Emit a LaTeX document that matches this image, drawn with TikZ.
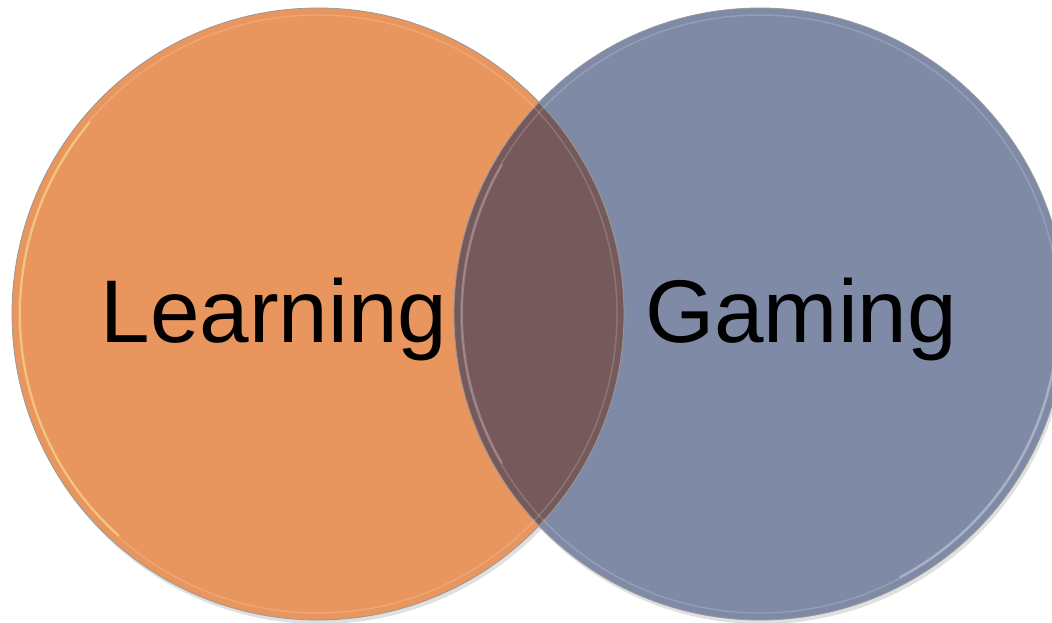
\documentclass[tikz,border=0pt]{standalone}
\usepackage{fontspec}
\setmainfont{Liberation Sans}
\usetikzlibrary{calc}
\definecolor{learnorange}{HTML}{E8955E}
\definecolor{gameblue}{HTML}{7F8BA6}
\definecolor{overlapbrown}{HTML}{765A5B}
\begin{document}
\begin{tikzpicture}
  [x=1pt,y=1pt,
  rim/.style={draw=black!40,line width=0.8pt},
  glow/.style={line width=2pt,opacity=0.45,line cap=round},
  word/.style={font=\fontsize{89}{100}\selectfont,anchor=base,text=black}]
  \useasboundingbox (0,0) rectangle (1052,623);
  \clip (0,0) rectangle (1052,623);
  \coordinate (learn) at (318,309);
  \coordinate (game) at (760,309);
  % drop shadows under the discs
  \fill[black,opacity=0.12] ($(learn)+(2,-4)$) circle (306);
  \fill[black,opacity=0.12] ($(game)+(2,-4)$) circle (306);
  % the two discs and their common lens
  \fill[learnorange] (learn) circle (306);
  \fill[gameblue] (game) circle (306);
  \begin{scope}
    \clip (learn) circle (306);
    \fill[overlapbrown] (game) circle (306);
  \end{scope}
  \draw[rim] (learn) circle (306);
  \draw[rim] (game) circle (306);
  % bevel rings
  \draw[white,opacity=0.16,line width=1.5pt] (learn) circle (299);
  \draw[white,opacity=0.16,line width=1.5pt] (game) circle (299);
  \draw[glow,yellow!40!white] (learn) ++(140:298) arc (140:228:298);
  \draw[glow,white!70!gameblue] (game) ++(-62:298) arc (-62:8:298);
  \draw[glow,white!60!overlapbrown,opacity=0.4] (game) ++(150:298) arc (150:210:298);
  % labels
  \node[word] (learnlabel) at (274,280) {Learning};
  \node[word] (gamelabel) at (801,280) {Gaming};
\end{tikzpicture}
\end{document}
